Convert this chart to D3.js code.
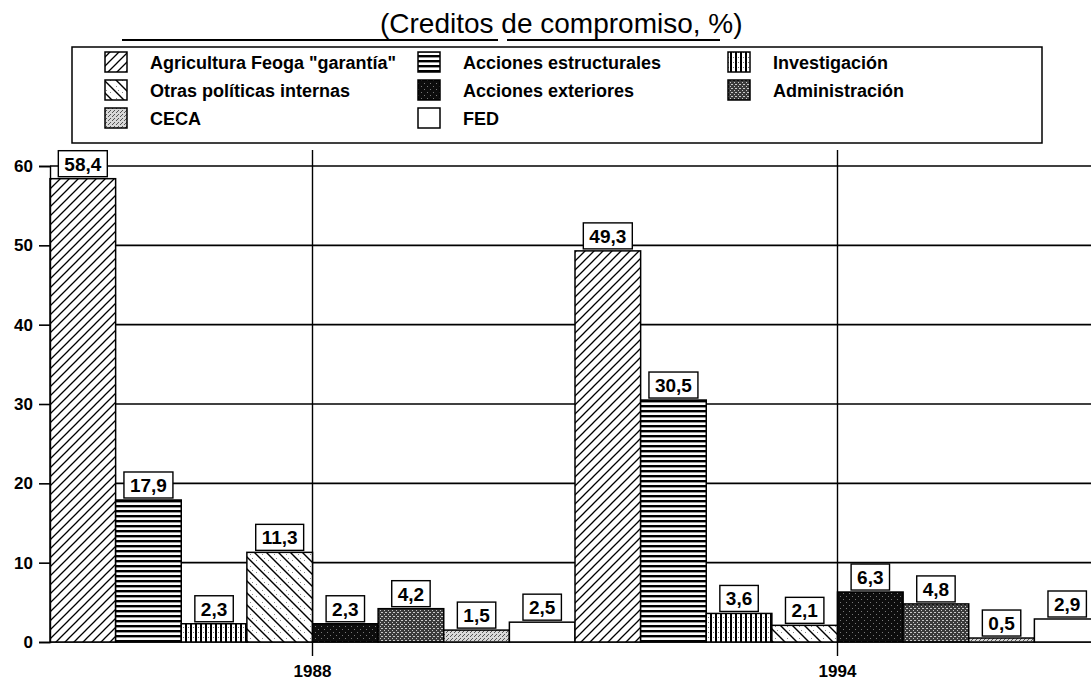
<!DOCTYPE html>
<html>
<head>
<meta charset="utf-8">
<script src="https://cdn.jsdelivr.net/npm/d3@7"></script>
<style>
  body { margin: 0; background: #fff; }
  svg { display: block; font-family: 'Liberation Sans', Arial, sans-serif; }
</style>
</head>
<body>
<svg id="chart" width="1091" height="680"></svg>
<script>
const years = ['1988', '1994']
const series = ['Agricultura Feoga "garantía"', 'Acciones estructurales', 'Investigación', 'Otras políticas internas', 'Acciones exteriores', 'Administración', 'CECA', 'FED']
const values1988 = [58.4, 17.9, 2.3, 11.3, 2.3, 4.2, 1.5, 2.5]
const values1994 = [49.3, 30.5, 3.6, 2.1, 6.3, 4.8, 0.5, 2.9]
const yTicks = [0, 10, 20, 30, 40, 50, 60]
// legend columns, top to bottom
const legendColumns = [
  ['Agricultura Feoga "garantía"', 'Otras políticas internas', 'CECA'],
  ['Acciones estructurales', 'Acciones exteriores', 'FED'],
  ['Investigación', 'Administración']
]
const title = '(Creditos de compromiso, %)'

const data = years.map(function (yr, i) {
  const vals = i === 0 ? values1988 : values1994
  return { year: yr, bars: series.map(function (s, j) { return { year: yr, key: s, value: vals[j] } }) }
})

const svg = d3.select('#chart')
const left = 50
const right = 1100

// tramas
const defs = svg.append('defs')
function pattern (id, w, h, bg) {
  const p = defs.append('pattern')
    .attr('id', id)
    .attr('patternUnits', 'userSpaceOnUse')
    .attr('width', w)
    .attr('height', h)
  p.append('rect').attr('width', w).attr('height', h).attr('fill', bg)
  return p
}
function dots (p, pts, color) {
  pts.forEach(function (d) {
    p.append('rect').attr('x', d[0]).attr('y', d[1]).attr('width', 1).attr('height', 1).attr('fill', color)
  })
}

let p = pattern('pAgri', 9, 9, '#fff')
p.append('path').attr('d', 'M0,9 L9,0 M-2,2 L2,-2 M7,11 L11,7')
  .attr('stroke', '#000').attr('stroke-width', 1.3)

p = pattern('pEstr', 10, 5, '#fff')
p.append('rect').attr('width', 10).attr('height', 2.4).attr('fill', '#000')

p = pattern('pInv', 5, 10, '#fff')
p.append('rect').attr('width', 2).attr('height', 10).attr('fill', '#000')
dots(p, [[3, 2], [3, 7]], '#777')

p = pattern('pOtras', 12, 12, '#fff')
p.append('path').attr('d', 'M0,0 L12,12 M-3,9 L3,15 M9,-3 L15,3')
  .attr('stroke', '#000').attr('stroke-width', 1.4)
dots(p, [[8, 2], [2, 8], [10, 6]], '#888')

p = pattern('pExt', 6, 6, '#0d0d0d')
dots(p, [[1, 2], [4, 5]], '#777')

p = pattern('pAdm', 4, 4, '#3a3a3a')
dots(p, [[0, 0], [2, 2], [3, 0]], '#c8c8c8')

p = pattern('pCeca', 4, 4, '#d8d8d8')
dots(p, [[0, 0], [2, 2], [1, 3]], '#555')

const fills = {
  'Agricultura Feoga "garantía"': 'url(#pAgri)',
  'Acciones estructurales': 'url(#pEstr)',
  'Investigación': 'url(#pInv)',
  'Otras políticas internas': 'url(#pOtras)',
  'Acciones exteriores': 'url(#pExt)',
  'Administración': 'url(#pAdm)',
  'CECA': 'url(#pCeca)',
  'FED': '#fff'
}

// escalas
const x0 = d3.scaleBand().domain(years).range([left, right]).padding(0)
const x1 = d3.scaleBand().domain(series).range([0, x0.bandwidth()]).padding(0)
const y = d3.scaleLinear().domain([0, 60]).range([642, 166])

// titulo
svg.append('text')
  .attr('x', 380)
  .attr('y', 33)
  .attr('font-size', 28)
  .attr('fill', '#000')
  .text(title)
svg.append('line').attr('x1', 122).attr('x2', 498).attr('y1', 40).attr('y2', 40)
  .attr('stroke', '#000').attr('stroke-width', 2)
svg.append('line').attr('x1', 507).attr('x2', 720).attr('y1', 40).attr('y2', 40)
  .attr('stroke', '#000').attr('stroke-width', 2)

// leyenda
const legend = svg.append('g')
legend.append('rect')
  .attr('x', 72).attr('y', 47).attr('width', 970).attr('height', 96)
  .attr('fill', 'none').attr('stroke', '#000').attr('stroke-width', 1.5)
const colX = [105, 418, 728]
legendColumns.forEach(function (col, ci) {
  col.forEach(function (name, ri) {
    const cy = 62 + ri * 28
    legend.append('rect')
      .attr('x', colX[ci]).attr('y', cy - 10).attr('width', 22).attr('height', 20)
      .attr('fill', fills[name]).attr('stroke', '#000').attr('stroke-width', 1.5)
    legend.append('text')
      .attr('x', colX[ci] + 45).attr('y', cy + 6.5)
      .attr('font-size', 18).attr('font-weight', 'bold')
      .text(name)
  })
})

// rejilla
svg.append('g')
  .selectAll('line')
  .data(yTicks)
  .enter()
  .append('line')
  .attr('x1', left).attr('x2', 1091)
  .attr('y1', function (d) { return y(d) }).attr('y2', function (d) { return y(d) })
  .attr('stroke', '#000').attr('stroke-width', 1.6)

// eje x (lineas verticales en el centro de cada grupo)
const gX = svg.append('g')
  .attr('transform', 'translate(0,656)')
  .call(d3.axisBottom(x0).tickSize(-506).tickPadding(9))
gX.select('.domain').remove()
gX.selectAll('.tick line').attr('stroke', '#000').attr('stroke-width', 1.4)
gX.selectAll('.tick text')
  .attr('font-size', 17).attr('font-weight', 'bold').attr('fill', '#000')
  .attr('font-family', 'Liberation Sans, Arial, sans-serif')

// barras
const groups = svg.append('g')
  .selectAll('g')
  .data(data)
  .enter()
  .append('g')
  .attr('transform', function (d) { return 'translate(' + x0(d.year) + ',0)' })

groups.selectAll('rect')
  .data(function (d) { return d.bars })
  .enter()
  .append('rect')
  .attr('x', function (d) { return x1(d.key) })
  .attr('y', function (d) { return y(d.value) })
  .attr('width', x1.bandwidth())
  .attr('height', function (d) { return y(0) - y(d.value) })
  .attr('fill', function (d) { return fills[d.key] })
  .attr('stroke', '#000')
  .attr('stroke-width', 1.5)

// etiquetas de valor
const fmt = function (v) { return d3.format('.1f')(v).replace('.', ',') }
const labels = groups.selectAll('g.lbl')
  .data(function (d) { return d.bars })
  .enter()
  .append('g')
  .attr('class', 'lbl')
  .attr('transform', function (d) {
    return 'translate(' + (x1(d.key) + x1.bandwidth() / 2) + ',' + (y(d.value) - 2) + ')'
  })
labels.each(function (d) {
  const g = d3.select(this)
  const t = g.append('text')
    .attr('text-anchor', 'middle')
    .attr('y', -6)
    .attr('font-size', 19)
    .attr('font-weight', 'bold')
    .text(fmt(d.value))
  const w = t.node().getComputedTextLength() + 12
  g.insert('rect', 'text')
    .attr('x', -w / 2).attr('y', -26).attr('width', w).attr('height', 26)
    .attr('fill', '#fff').attr('stroke', '#000').attr('stroke-width', 1.4)
})

// eje y
const gY = svg.append('g')
  .attr('transform', 'translate(' + left + ',0)')
  .call(d3.axisLeft(y).tickValues(yTicks).tickSize(11).tickPadding(6))
gY.select('.domain').attr('stroke', '#000').attr('stroke-width', 1.4)
gY.selectAll('.tick line').attr('stroke', '#000').attr('stroke-width', 1.6)
gY.selectAll('.tick text')
  .attr('font-size', 17).attr('font-weight', 'bold').attr('fill', '#000')
  .attr('font-family', 'Liberation Sans, Arial, sans-serif')
</script>
</body>
</html>
